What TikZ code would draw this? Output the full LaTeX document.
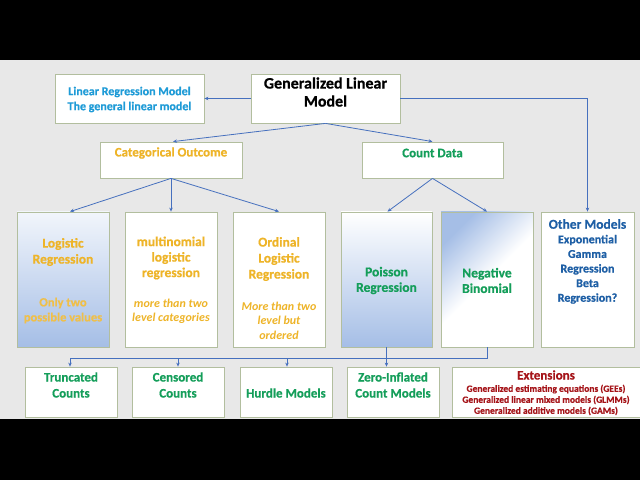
\documentclass[tikz,border=0pt]{standalone}
\usepackage{fontspec}
\setmainfont{Carlito}[BoldFeatures={FakeBold=0.6}]
\usetikzlibrary{arrows.meta}

\definecolor{gback}{RGB}{232,232,232}
\definecolor{boxline}{RGB}{178,190,158}
\definecolor{linkblue}{RGB}{70,112,190}
\definecolor{cyantxt}{RGB}{30,155,215}
\definecolor{goldtxt}{RGB}{238,180,40}
\definecolor{greentxt}{RGB}{20,158,90}
\definecolor{bluetxt}{RGB}{30,95,165}
\definecolor{redtxt}{RGB}{165,20,25}
\definecolor{shadeblue}{RGB}{165,190,230}

\newcommand{\setfs}[2]{\fontsize{#1}{#2}\selectfont}

\tikzset{
  box/.style={draw=boxline, line width=0.8pt, fill=white, rectangle, inner sep=0pt},
  txt/.style={align=center, inner sep=0pt, font=\bfseries},
  link/.style={draw=linkblue, line width=0.8pt},
  arr/.style={link, -{Stealth[length=4pt,width=3.5pt]}}
}

\begin{document}
\begin{tikzpicture}
    \useasboundingbox (0pt,0pt) rectangle (640pt,480pt);
    \fill[black] (0pt,0pt) rectangle (640pt,480pt);
    \fill[gback] (0pt,61pt) rectangle (640pt,420pt);

        \node[box,
        minimum width = 149pt,
        minimum height = 49pt
        ](linreg) at (129.5pt,381.5pt) {};
        \node[txt, text=cyantxt,
        font=\bfseries\setfs{12}{15}
        ](linregtxt) at (129.5pt,380.5pt) {Linear Regression Model\\The general linear model};

        \node[box,
        minimum width = 149pt,
        minimum height = 49pt
        ](glm) at (325.5pt,381.5pt) {};
        \node[txt,
        font=\bfseries\setfs{16}{18}
        ](glmtxt) at (325.5pt,388pt) {Generalized Linear\\Model};

        \node[box,
        minimum width = 142pt,
        minimum height = 36pt
        ](cat) at (171pt,320pt) {};
        \node[txt, text=goldtxt,
        font=\bfseries\setfs{13}{15}
        ](cattxt) at (171pt,327pt) {Categorical Outcome};

        \node[box,
        minimum width = 141pt,
        minimum height = 36pt
        ](count) at (432.5pt,320pt) {};
        \node[txt, text=greentxt,
        font=\bfseries\setfs{13}{15}
        ](counttxt) at (432.5pt,327pt) {Count Data};

        \node[box,
        top color = white!85!shadeblue,
        bottom color = shadeblue,
        minimum width = 92pt,
        minimum height = 135pt
        ](logit) at (63pt,200.5pt) {};
        \node[txt, text=goldtxt,
        font=\bfseries\setfs{13.5}{16}
        ](logittxt) at (63pt,228pt) {Logistic\\Regression};
        \node[txt, text=goldtxt!85!white,
        font=\bfseries\setfs{12.5}{15}
        ](logitsub) at (63pt,169.5pt) {Only two\\possible values};

        \node[box,
        minimum width = 92pt,
        minimum height = 135pt
        ](multi) at (171pt,200.5pt) {};
        \node[txt, text=goldtxt,
        font=\bfseries\setfs{13.5}{15.5}
        ](multitxt) at (171pt,222pt) {multinomial\\logistic\\regression};
        \node[txt, text=goldtxt,
        font=\bfseries\itshape\setfs{12}{14}
        ](multisub) at (171pt,169pt) {more than two\\level categories};

        \node[box,
        minimum width = 92pt,
        minimum height = 135pt
        ](ord) at (279pt,200.5pt) {};
        \node[txt, text=goldtxt,
        font=\bfseries\setfs{13.5}{16}
        ](ordtxt) at (279pt,221pt) {Ordinal\\Logistic\\Regression};
        \node[txt, text=goldtxt,
        font=\bfseries\itshape\setfs{12}{14.5}
        ](ordsub) at (279pt,159.5pt) {More than two\\level but\\ordered};

        \node[box,
        top color = white,
        bottom color = shadeblue,
        minimum width = 91pt,
        minimum height = 135pt
        ](pois) at (386.5pt,200.5pt) {};
        \node[txt, text=greentxt,
        font=\bfseries\setfs{13.5}{15.5}
        ](poistxt) at (386.5pt,199.5pt) {Poisson\\Regression};

        \node[box,
        top color = shadeblue,
        bottom color = white,
        middle color = white,
        shading angle = 45,
        minimum width = 92pt,
        minimum height = 135pt
        ](negbin) at (487pt,200.5pt) {};
        \node[txt, text=greentxt,
        font=\bfseries\setfs{13.5}{15.5}
        ](negbintxt) at (487pt,199.5pt) {Negative\\Binomial};

        \node[box,
        minimum width = 93pt,
        minimum height = 135pt
        ](other) at (587.5pt,200.5pt) {};
        \node[txt, text=bluetxt,
        font=\bfseries\setfs{12}{14.6}
        ](othertxt) at (587.5pt,218.5pt) {{\setfs{13.5}{14.6}Other Models}\\Exponential\\Gamma\\Regression\\Beta\\Regression?};

        \node[box,
        minimum width = 92pt,
        minimum height = 50pt
        ](trunc) at (71pt,88pt) {};
        \node[txt, text=greentxt,
        font=\bfseries\setfs{13}{16}
        ](trunctxt) at (71pt,95pt) {Truncated\\Counts};

        \node[box,
        minimum width = 92pt,
        minimum height = 50pt
        ](cens) at (178pt,88pt) {};
        \node[txt, text=greentxt,
        font=\bfseries\setfs{13}{16}
        ](censtxt) at (178pt,95pt) {Censored\\Counts};

        \node[box,
        minimum width = 92pt,
        minimum height = 50pt
        ](hurdle) at (286pt,88pt) {};
        \node[txt, text=greentxt,
        font=\bfseries\setfs{13}{16}
        ](hurdletxt) at (286pt,87pt) {Hurdle Models};

        \node[box,
        minimum width = 92pt,
        minimum height = 50pt
        ](zero) at (393pt,88pt) {};
        \node[txt, text=greentxt,
        font=\bfseries\setfs{13}{16}
        ](zerotxt) at (393pt,95pt) {Zero-Inflated\\Count Models};

        \node[box,
        minimum width = 188pt,
        minimum height = 50pt
        ](ext) at (546pt,88pt) {};
        \node[txt, text=redtxt,
        font=\bfseries\setfs{13}{15}
        ](exttxt) at (546pt,105pt) {Extensions};
        \node[txt, text=redtxt,
        font=\bfseries\setfs{9.5}{11}
        ](extsub) at (546pt,80pt) {Generalized estimating equations (GEEs)\\Generalized linear mixed models (GLMMs)\\Generalized additive models (GAMs)};

    \coordinate (bus) at (70pt,122pt);

    \draw[arr] (glm.west) -- (linreg.east);
    \draw[arr] (glm.east) -| (other.north);
    \draw[arr] (glm.south) -- ([xshift=2pt]cat.north);
    \draw[arr] (glm.south) -- (count.north);
    \draw[arr] (cat.south) -- ([xshift=7pt]logit.north);
    \draw[arr] (cat.south) -- (multi.north);
    \draw[arr] (cat.south) -- (ord.north);
    \draw[arr] (count.south) -- ([xshift=1pt]pois.north);
    \draw[arr] (count.south) -- (negbin.north);
    \draw[link] (negbin.south) |- (bus);
    \draw[arr] (bus) -- (bus |- trunc.north);
    \draw[arr] (cens.north |- bus) -- (cens.north);
    \draw[arr] ([xshift=1pt]hurdle.north |- bus) -- ([xshift=1pt]hurdle.north);
    \draw[arr] (pois.south) -- (pois.south |- zero.north);

\end{tikzpicture}
\end{document}
